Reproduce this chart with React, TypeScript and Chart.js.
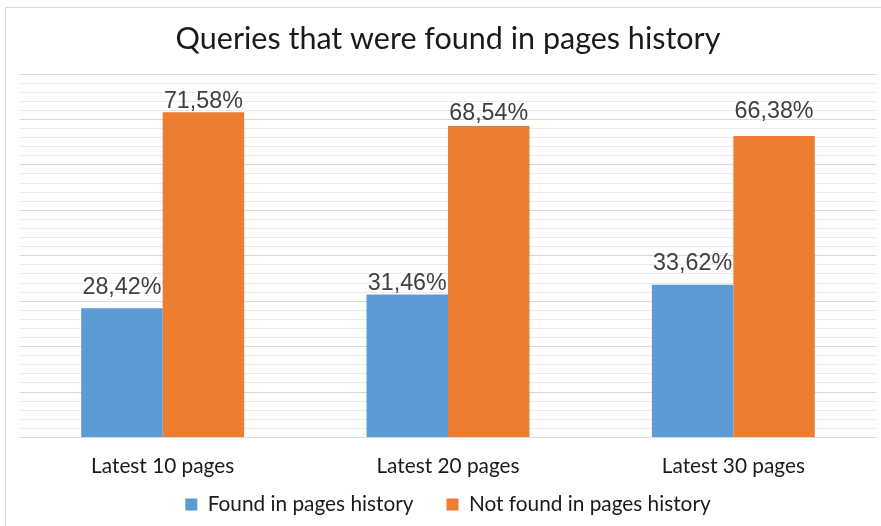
import React, { useEffect, useRef } from "react";
import { Chart, registerables } from "chart.js";

Chart.register(...registerables);

const categories = ["Latest 10 pages", "Latest 20 pages", "Latest 30 pages"];
const foundValues = [28.42, 31.46, 33.62];
const notFoundValues = [71.58, 68.54, 66.38];
const seriesNames = ["Found in pages history", "Not found in pages history"];
const seriesColors = ["#5B9BD5", "#ED7D31"];
const titleText = "Queries that were found in pages history";
const yMin = 0;
const yMax = 80;
const yStep = 2;

// gap (px) between each value label's baseline and its bar top, as placed in the original
const labelGaps = [
  [14.4, 4.7, 15],
  [4.7, 5.7, 18],
];

const fmt = (v: number) => v.toFixed(2).replace(".", ",") + "%";

const labelPlugin = {
  id: "barLabels",
  afterDatasetsDraw(chart: any) {
    const ctx = chart.ctx;
    chart.data.datasets.forEach((ds: any, i: number) => {
      const meta = chart.getDatasetMeta(i);
      meta.data.forEach((bar: any, j: number) => {
        ctx.save();
        ctx.font = "24px 'Liberation Sans', Arial, sans-serif";
        ctx.fillStyle = "#404040";
        ctx.textAlign = "center";
        ctx.textBaseline = "alphabetic";
        ctx.translate(bar.x, bar.y - labelGaps[i][j]);
        ctx.scale(0.97, 1);
        ctx.fillText(fmt(ds.data[j]), 0, 0);
        ctx.restore();
      });
    });
  },
};

export default function App() {
  const ref = useRef<HTMLCanvasElement | null>(null);

  useEffect(() => {
    if (!ref.current) return;
    const chart = new Chart(ref.current, {
      type: "bar",
      data: {
        labels: categories,
        datasets: [
          {
            label: seriesNames[0],
            data: foundValues,
            backgroundColor: seriesColors[0],
            categoryPercentage: 0.571,
            barPercentage: 1,
          },
          {
            label: seriesNames[1],
            data: notFoundValues,
            backgroundColor: seriesColors[1],
            categoryPercentage: 0.571,
            barPercentage: 1,
          },
        ],
      },
      options: {
        responsive: false,
        animation: false,
        devicePixelRatio: 1,
        layout: { padding: { left: 20, right: 5, top: 0, bottom: 1 } },
        plugins: {
          title: {
            display: true,
            text: titleText,
            color: "#1a1a1a",
            font: { family: "Lato", size: 30.5, weight: "normal" },
            padding: { top: 20.7, bottom: 16.7 },
          },
          legend: {
            display: true,
            position: "bottom",
            labels: {
              boxWidth: 12,
              boxHeight: 12,
              padding: 33,
              color: "#1a1a1a",
              font: { family: "Lato", size: 20.8 },
            },
          },
          tooltip: { enabled: false },
        },
        scales: {
          x: {
            grid: { display: false, drawTicks: false },
            border: { display: false },
            ticks: {
              color: "#1a1a1a",
              mirror: true,
              padding: -41,
              font: { family: "Lato", size: 20.8 },
            },
            afterFit: (scale: any) => {
              scale.height = 23.7;
            },
          },
          y: {
            min: yMin,
            max: yMax,
            ticks: { display: false, stepSize: yStep },
            border: { display: false },
            grid: {
              drawTicks: false,
              color: (c: any) =>
                c.tick && Math.round(c.tick.value) % 10 === 0 ? "#d9d9d9" : "#ececec",
              lineWidth: 1,
            },
          },
        },
      },
      plugins: [labelPlugin],
    });
    return () => chart.destroy();
  }, []);

  return (
    <div style={{ position: "absolute", left: 0, top: 0, width: 881, height: 526, background: "#fff", overflow: "hidden" }}>
      <div
        style={{
          position: "absolute",
          left: 5,
          top: 7,
          width: 900,
          height: 600,
          borderLeft: "1px solid #d9d9d9",
          borderTop: "1px solid #d9d9d9",
        }}
      />
      <canvas ref={ref} width={881} height={526} style={{ position: "absolute", left: 0, top: 0 }} />
    </div>
  );
}
